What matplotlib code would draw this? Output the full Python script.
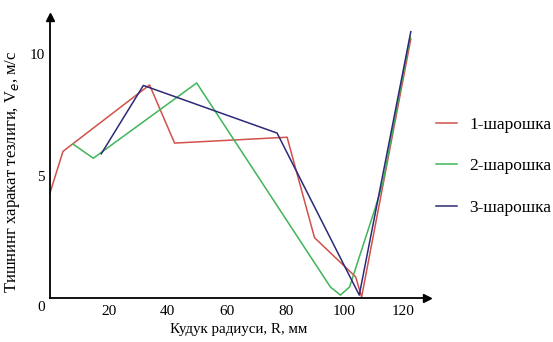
import matplotlib.pyplot as plt

plt.rcParams['font.family'] = ['Liberation Serif', 'DejaVu Serif']

# 1-шарошка
r1_x = [0, 4.4, 33.8, 42.3, 80.5, 89.8, 103.8, 105.8, 122.5]
r1_y = [4.3, 6.0, 8.72, 6.34, 6.58, 2.47, 0.86, 0.04, 10.6]
# 2-шарошка
r2_x = [7.8, 14.7, 49.8, 95.2, 98.6, 101.7, 110.2, 113.0, 122.3]
r2_y = [6.3, 5.72, 8.8, 0.45, 0.12, 0.45, 3.6, 4.7, 10.7]
# 3-шарошка
r3_x = [17.4, 31.7, 77.1, 105.0, 122.5]
r3_y = [5.9, 8.7, 6.75, 0.12, 10.9]

labels = ['1-шарошка', '2-шарошка', '3-шарошка']
colors = ['#d0524a', '#3fb55a', '#2c2a78']
xticks = [20, 40, 60, 80, 100, 120]
yticks = [5, 10]

W, H = 553, 342
fig = plt.figure(figsize=(W / 100, H / 100), dpi=100)
ax = fig.add_axes([50 / W, (H - 298) / H, (427 - 50) / W, (298 - 17) / H])

for xs, ys, lab, c in zip([r1_x, r2_x, r3_x], [r1_y, r2_y, r3_y], labels, colors):
    ax.plot(xs, ys, color=c, lw=1.1, label=lab, clip_on=False)

ax.set_xlim(0, 128)
ax.set_ylim(0, 11.5)
for s in ['top', 'right']:
    ax.spines[s].set_visible(False)
for s in ['left', 'bottom']:
    ax.spines[s].set_linewidth(1.3)
ax.plot(1, 0, '>k', ms=6, transform=ax.transAxes, clip_on=False)
ax.plot(0, 1, '^k', ms=6, transform=ax.transAxes, clip_on=False)

ax.set_xticks(xticks)
ax.set_yticks(yticks)
ax.tick_params(length=0, labelsize=11)
ax.tick_params(axis='x', pad=5)
ax.tick_params(axis='y', pad=4)
ax.text(-0.012, -0.01, '0', transform=ax.transAxes, ha='right', va='top', fontsize=11)

ax.set_xlabel('Кудук радиуси, R, мм', fontsize=10.8, labelpad=4)
ax.set_ylabel('Тишнинг харакат тезлиги, V$_e$, м/с', fontsize=12)
ax.yaxis.set_label_coords(-0.074, 0.45)

ax.legend(loc='upper left', bbox_to_anchor=(436 / W, 1 - 117 / H), bbox_transform=fig.transFigure,
          frameon=False, fontsize=12.5, borderpad=0, borderaxespad=0,
          handlelength=1.2, labelspacing=1.45, handletextpad=0.7)

fig.savefig('out.png', dpi=100, facecolor='white')
